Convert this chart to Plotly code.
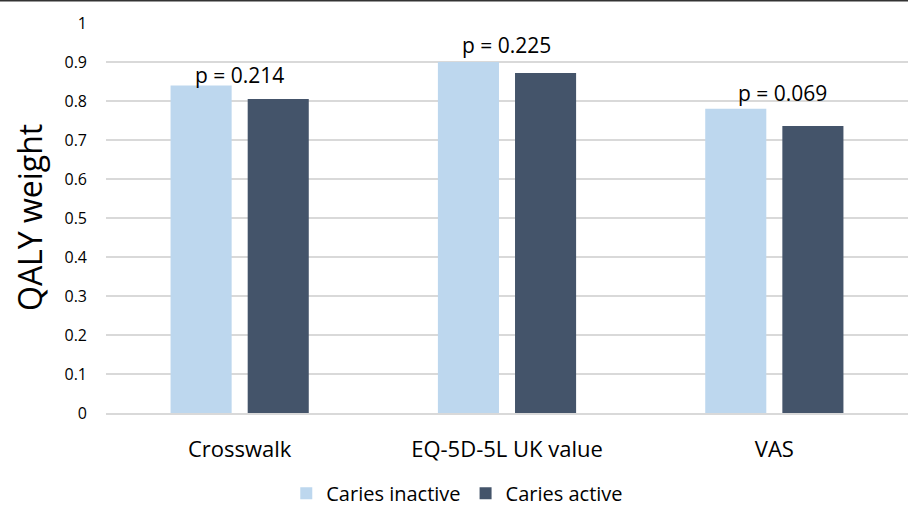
import plotly.graph_objects as go

categories = ["Crosswalk", "EQ-5D-5L UK value", "VAS"]
caries_inactive = [0.84, 0.90, 0.78]
caries_active = [0.805, 0.872, 0.736]
p_labels = ["p = 0.214", "p = 0.225", "p = 0.069"]
p_label_y = [0.867, 0.944, 0.821]
p_label_xshift = [0, -1, 8]
y_ticks = [0, 0.1, 0.2, 0.3, 0.4, 0.5, 0.6, 0.7, 0.8, 0.9, 1]
y_tick_text = ["0", "0.1", "0.2", "0.3", "0.4", "0.5", "0.6", "0.7", "0.8", "0.9", "1"]

FONT = "Open Sans"

fig = go.Figure()
fig.add_trace(go.Bar(name="Caries inactive", x=categories, y=caries_inactive,
                     marker=dict(color="#BDD7EE", line=dict(width=0))))
fig.add_trace(go.Bar(name="Caries active", x=categories, y=caries_active,
                     marker=dict(color="#44546A", line=dict(width=0))))

for i, (lab, yy, xs) in enumerate(zip(p_labels, p_label_y, p_label_xshift)):
    fig.add_annotation(x=categories[i], y=yy, text=lab, showarrow=False,
                       xshift=xs, yanchor="middle", xanchor="center",
                       font=dict(family=FONT, size=21, color="#000000"))

# y-axis title as annotation
fig.add_annotation(xref="paper", yref="paper", x=-0.096, y=0.5, text="QALY weight",
                   textangle=-90, showarrow=False, xanchor="center", yanchor="middle",
                   font=dict(family=FONT, size=32, color="#000000"))

# top frame line
fig.add_shape(type="line", xref="paper", yref="paper",
              x0=-0.2, x1=1.1, y0=1.0576, y1=1.0576,
              line=dict(color="#333333", width=2))

fig.update_layout(
    width=908, height=507,
    margin=dict(l=106, r=0, t=23, b=94, autoexpand=False),
    paper_bgcolor="white", plot_bgcolor="white",
    barmode="group", bargap=0.423, bargroupgap=0.208,
    showlegend=True,
    legend=dict(orientation="h", x=0.438, xanchor="center", y=-0.206, yanchor="middle",
                font=dict(family=FONT, size=20, color="#000000"),
                itemsizing="constant", traceorder="normal", itemwidth=30),
    font=dict(family=FONT, color="#000000"),
    xaxis=dict(showgrid=False, showline=True, linecolor="#d9d9d9", linewidth=1.5,
               tickfont=dict(family=FONT, size=22, color="#000000"),
               ticks="", ticklabelstandoff=16, automargin=False),
    yaxis=dict(range=[0, 1], tickvals=y_ticks, ticktext=y_tick_text,
               showgrid=True, gridcolor="#d9d9d9", gridwidth=1.5,
               zeroline=False, showline=False, ticks="",
               tickfont=dict(family=FONT, size=16, color="#000000"),
               ticklabelstandoff=18, automargin=False),
)

fig.write_html("out.html", config={"displayModeBar": False},
               post_script="document.body.style.margin='0';document.body.style.overflow='hidden';")
